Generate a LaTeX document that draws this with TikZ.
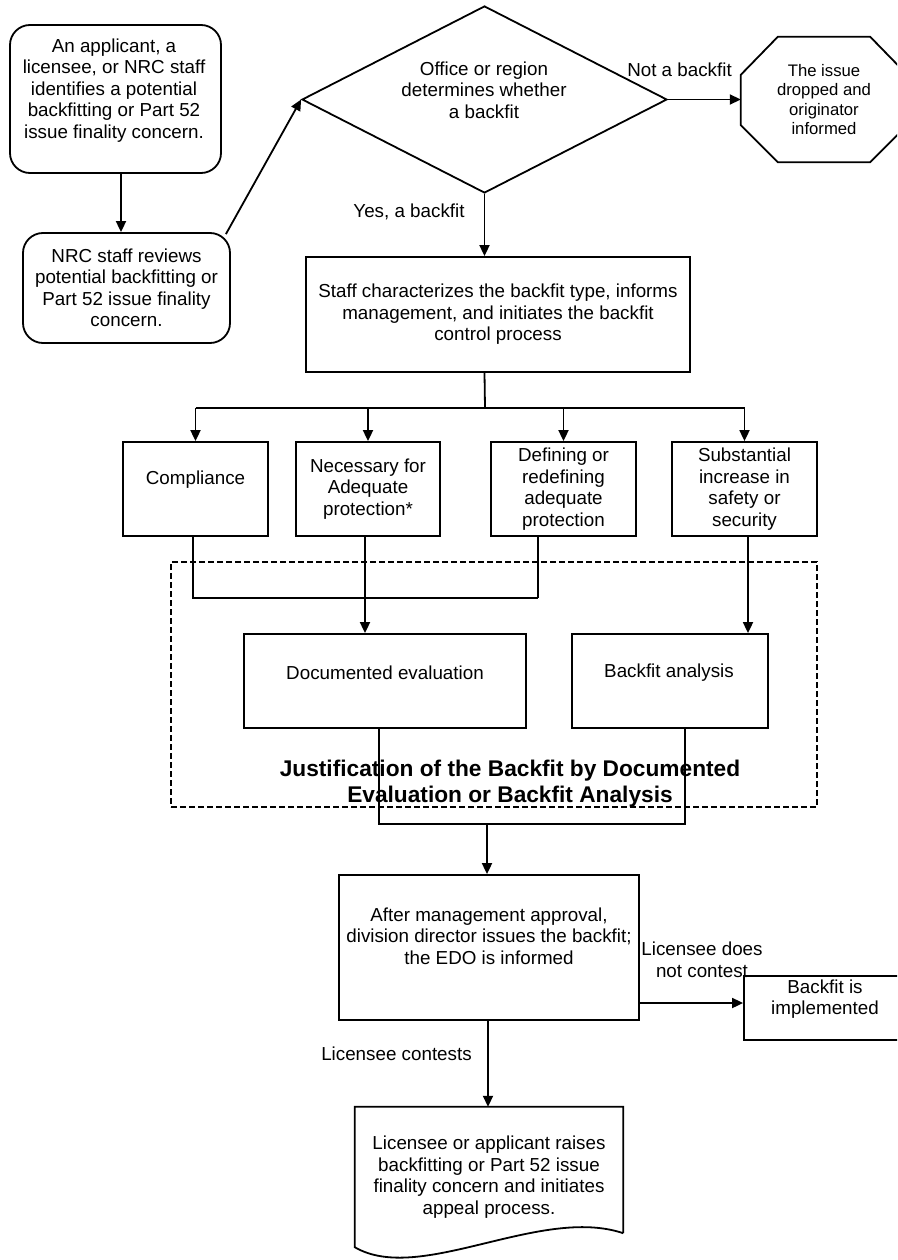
\documentclass[tikz,border=0pt]{standalone}
\usepackage{fontspec}
\setmainfont{Liberation Sans}
\usetikzlibrary{arrows.meta,shapes.geometric,calc}
\begin{document}
\begin{tikzpicture}[x=1pt,y=-1pt,
  every node/.style={font=\fontsize{18.8}{21.5}\selectfont},
  box/.style={draw, line width=1.8pt, inner sep=0pt},
  rbox/.style={box, rounded corners=20pt},
  txt/.style={align=center, inner sep=0pt},
  lbl/.style={align=center, inner sep=0pt},
  arr/.style={line width=1.8pt, -{Triangle[length=11pt,width=10pt]}},
  ln/.style={line width=1.8pt}]
\useasboundingbox (0,0) rectangle (897,1260);
\clip (0,0) rectangle (897,1260);
\fill[white] (0,0) rectangle (897,1260);

% top-left rounded boxes
\node[rbox, minimum width=211pt, minimum height=148pt] (b1) at (115.5,99) {};
\node[txt] (b1t) at (114,90.5) {An applicant, a\\licensee, or NRC staff\\identifies a potential\\backfitting or Part 52\\issue finality concern.};
\node[rbox, txt, draw, line width=1.8pt, minimum width=207pt, minimum height=110pt] (b2) at (126.5,288) {NRC staff reviews\\potential backfitting or\\Part 52 issue finality\\concern.};

% decision diamond
\node[diamond, draw, line width=1.8pt, minimum width=365pt, minimum height=187pt, inner sep=0pt] (dia) at (484.5,99.5) {};
\node[txt] (diat) at (484,90) {Office or region\\determines whether\\a backfit};

% octagon
\node[txt, minimum width=166pt, minimum height=125pt, font=\fontsize{16.7}{19.3}\selectfont] (oct) at (824,99.5) {The issue\\dropped and\\originator\\informed};
\draw[line width=1.8pt] ($(oct.north west)+(37,0)$) -- ($(oct.north east)+(-37,0)$) -- ($(oct.north east)+(0,38)$) -- ($(oct.south east)+(0,-37)$) -- ($(oct.south east)+(-37,0)$) -- ($(oct.south west)+(37,0)$) -- ($(oct.south west)+(0,-37)$) -- ($(oct.north west)+(0,38)$) -- cycle;

% staff box
\node[box, txt, draw, line width=1.8pt, minimum width=384pt, minimum height=115pt] (staff) at (498,314.5) {Staff characterizes the backfit type, informs\\management, and initiates the backfit\\control process};

% four type boxes
\node[box, minimum width=145pt, minimum height=94pt] (comp) at (195.5,489) {};
\node[txt] (compt) at (195.5,480) {Compliance};
\node[box, txt, draw, line width=1.8pt, minimum width=144pt, minimum height=94pt] (nec) at (368,489) {Necessary for\\Adequate\\protection*};
\node[box, txt, draw, line width=1.8pt, minimum width=145pt, minimum height=94pt] (def) at (563.5,489) {Defining or\\redefining\\adequate\\protection};
\node[box, txt, draw, line width=1.8pt, minimum width=145pt, minimum height=94pt] (sub) at (744.5,489) {Substantial\\increase in\\safety or\\security};

% dashed justification region
\node[draw, line width=1.4pt, dash pattern=on 6pt off 3pt, minimum width=646pt, minimum height=245pt, inner sep=0pt] (just) at (494,684.5) {};
\node[txt, font=\fontsize{22.7}{26}\selectfont\bfseries] (justt) at (510,784) {Justification of the Backfit by Documented\\Evaluation or Backfit Analysis};
\node[box, minimum width=282pt, minimum height=94pt] (deval) at (385,681) {};
\node[txt] (devalt) at (385,673) {Documented evaluation};
\node[box, minimum width=196pt, minimum height=94pt] (banal) at (670,681) {};
\node[txt] (banalt) at (669,673) {Backfit analysis};

% after management box
\node[box, minimum width=300pt, minimum height=145pt] (amg) at (489,947.5) {};
\node[txt] (amgt) at (489,936) {After management approval,\\division director issues the backfit;\\the EDO is informed};

% backfit implemented
\node[box, minimum width=162pt, minimum height=64pt] (bimpl) at (825,1008) {};
\node[txt] (bimplt) at (825,999) {Backfit is\\implemented};

% appeal document
\node[txt, minimum width=268pt, minimum height=126pt] (doc) at (489,1170) {};
\draw[line width=1.8pt] (doc.south east) -- (doc.north east) -- (doc.north west) -- ($(doc.south west)+(0,14)$) .. controls ($(doc.south west)+(65,52)$) and ($(doc.south east)+(-83,-28)$) .. (doc.south east);
\node[txt] (doct) at (489,1177) {Licensee or applicant raises\\backfitting or Part 52 issue\\finality concern and initiates\\appeal process.};

% connectors
\draw[arr] ([xshift=5.5pt]b1.south) -- ([xshift=5.5pt]b1.south |- b2.north);
\draw[arr] ([xshift=-5pt,yshift=-2pt]b2.north east) -- (dia.west);
\draw[arr] (dia.east) -- (dia.east -| oct.west);
\node[lbl] (nab) at (679.5,70) {Not a backfit};
\draw[arr] (dia.south) -- (dia.south |- staff.north);
\node[lbl] (yab) at (409,212) {Yes, a backfit};

\coordinate (bus) at (485,408);
\draw[ln] (dia.south |- staff.south) -- (bus);
\draw[ln] (bus -| comp.north) -- (bus -| sub.north);
\foreach \n in {comp,nec,def,sub} \draw[arr] (bus -| \n.north) -- (\n.north);

\coordinate (j) at (538,598);
\draw[ln] ([xshift=-2.5pt]comp.south) |- (j);
\draw[ln] ([xshift=-25.5pt]def.south) -- (j);
\draw[arr] ([xshift=-3pt]nec.south) -- ([xshift=-3pt]nec.south |- deval.north);
\draw[arr] ([xshift=3.5pt]sub.south) -- ([xshift=3.5pt]sub.south |- banal.north);

\coordinate (m) at (487,824);
\draw[ln] ([xshift=-6pt]deval.south) |- (m) -| ([xshift=15pt]banal.south);
\draw[arr] (m) -- (m |- amg.north);

\draw[arr] (amg.east |- 0,1003) -- (bimpl.west |- 0,1003);
\node[lbl] (ldnc) at (702,960) {Licensee does\\not contest};
\draw[arr] ([xshift=-1pt]amg.south) -- ([xshift=-1pt]amg.south |- doc.north);
\node[lbl] (lc) at (396.5,1054) {Licensee contests};
\end{tikzpicture}
\end{document}
